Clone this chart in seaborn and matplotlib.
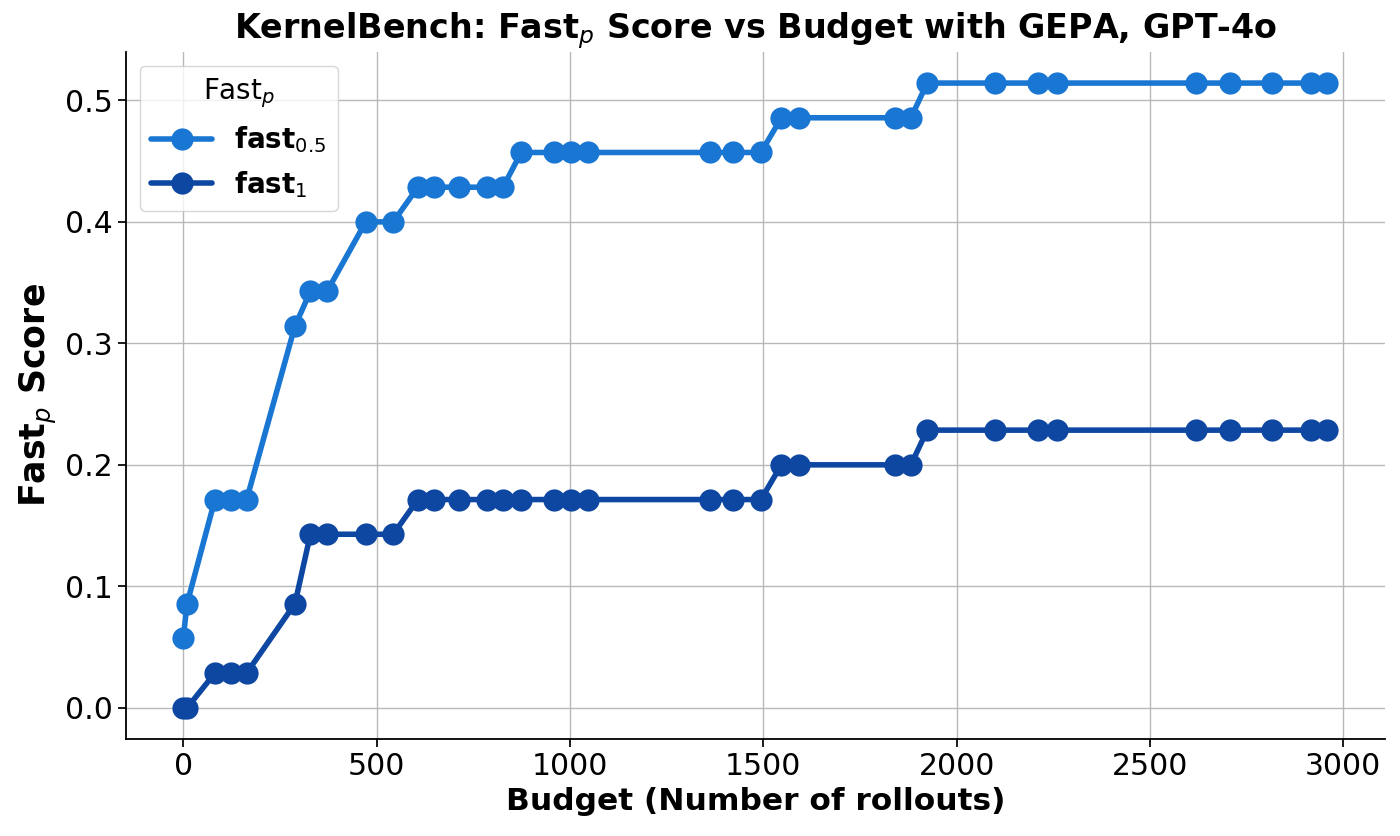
import pandas as pd
import matplotlib.pyplot as plt
import seaborn as sns

# budgets (number of rollouts)
budget = [0, 10, 82, 123, 164, 289, 329, 372, 472, 543, 607, 649, 714, 785, 827,
          874, 958, 1003, 1047, 1363, 1422, 1494, 1547, 1593, 1841, 1882, 1924,
          2100, 2210, 2259, 2618, 2706, 2817, 2916, 2959]

# fast_p scores (fractions of 35 tasks)
fast_05 = [2, 3, 6, 6, 6, 11, 12, 12, 14, 14, 15, 15, 15, 15, 15,
           16, 16, 16, 16, 16, 16, 16, 17, 17, 17, 17, 18,
           18, 18, 18, 18, 18, 18, 18, 18]
fast_1 = [0, 0, 1, 1, 1, 3, 5, 5, 5, 5, 6, 6, 6, 6, 6,
          6, 6, 6, 6, 6, 6, 6, 7, 7, 7, 7, 8,
          8, 8, 8, 8, 8, 8, 8, 8]
n_tasks = 35

series_labels = [r"$\mathbf{fast}_{0.5}$", r"$\mathbf{fast}_{1}$"]
series_colors = ["#1976d2", "#0d47a1"]

df = pd.concat([
    pd.DataFrame({"Budget": budget, "Score": [v / n_tasks for v in fast_05], "Metric": series_labels[0]}),
    pd.DataFrame({"Budget": budget, "Score": [v / n_tasks for v in fast_1], "Metric": series_labels[1]}),
])

sns.set_theme(style="whitegrid")
plt.rcParams.update({
    "font.family": ["DejaVu Sans"],
    "text.color": "black",
    "axes.labelcolor": "black",
    "axes.edgecolor": "black",
    "axes.linewidth": 1.3,
    "grid.color": "#b8b8b8",
    "grid.linewidth": 1.0,
    "xtick.bottom": True,
    "ytick.left": True,
    "xtick.color": "black",
    "ytick.color": "black",
    "xtick.major.size": 6,
    "ytick.major.size": 6,
})

fig, ax = plt.subplots(figsize=(14, 8.36), dpi=100)
sns.lineplot(data=df, x="Budget", y="Score", hue="Metric", palette=series_colors,
             marker="o", markersize=16, markeredgewidth=0, linewidth=4, ax=ax)

sns.despine(ax=ax)
ax.set_title(r"KernelBench: Fast$_p$ Score vs Budget with GEPA, GPT-4o",
             fontsize=24, fontweight="bold", pad=10)
ax.set_xlabel("Budget (Number of rollouts)", fontsize=22.5, fontweight="bold")
ax.set_ylabel(r"Fast$_p$ Score", fontsize=25, fontweight="bold")
ax.tick_params(axis="both", labelsize=21.5)
ax.set_xticks([0, 500, 1000, 1500, 2000, 2500, 3000])
ax.set_yticks([0.0, 0.1, 0.2, 0.3, 0.4, 0.5])

sns.move_legend(ax, "upper left", title=r"Fast$_p$", fontsize=20, title_fontsize=20,
                frameon=True, framealpha=0.8, handlelength=2.2)

plt.subplots_adjust(left=0.09, right=0.989, bottom=0.116, top=0.938)
plt.savefig("out.png", dpi=100)
